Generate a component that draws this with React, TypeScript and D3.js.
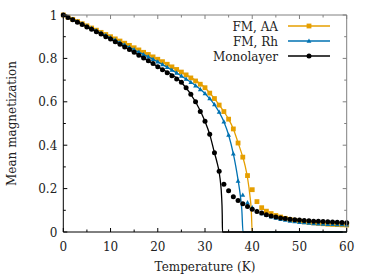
import * as d3 from "d3";

const temps = d3.range(0, 61);

const aaMarks = [
  1.0, 0.99, 0.98, 0.97, 0.96, 0.95, 0.94, 0.93, 0.92, 0.91,
  0.9, 0.89, 0.88, 0.87, 0.86, 0.849, 0.839, 0.828, 0.818, 0.807,
  0.796, 0.785, 0.773, 0.761, 0.749, 0.737, 0.724, 0.71, 0.696, 0.681,
  0.665, 0.64, 0.615, 0.585, 0.555, 0.52, 0.475, 0.41, 0.345, 0.26,
  0.195, 0.14, 0.112, 0.096, 0.085, 0.076, 0.069, 0.063, 0.058, 0.054,
  0.05, 0.047, 0.044, 0.042, 0.04, 0.038, 0.036, 0.035, 0.034, 0.033, 0.032,
];

const rhMarks = [
  1.0, 0.99, 0.98, 0.969, 0.959, 0.948, 0.938, 0.927, 0.917, 0.906,
  0.895, 0.884, 0.873, 0.862, 0.851, 0.84, 0.829, 0.818, 0.807, 0.796,
  0.784, 0.772, 0.759, 0.746, 0.733, 0.719, 0.705, 0.69, 0.674, 0.657,
  0.638, 0.615, 0.587, 0.553, 0.508, 0.447, 0.36, 0.235, 0.17, 0.135,
  0.112, 0.096, 0.085, 0.077, 0.07, 0.064, 0.059, 0.055, 0.051, 0.048,
  0.045, 0.043, 0.041, 0.039, 0.038, 0.037, 0.036, 0.035, 0.034, 0.034, 0.033,
];

const monoMarks = [
  1.0, 0.989, 0.978, 0.967, 0.956, 0.945, 0.934, 0.923, 0.912, 0.9,
  0.889, 0.877, 0.865, 0.853, 0.841, 0.828, 0.815, 0.802, 0.789, 0.776,
  0.762, 0.748, 0.734, 0.72, 0.705, 0.69, 0.665, 0.635, 0.6, 0.555,
  0.51, 0.45, 0.365, 0.28, 0.22, 0.19, 0.163, 0.145, 0.13, 0.118,
  0.105, 0.095, 0.087, 0.08, 0.074, 0.069, 0.065, 0.062, 0.059, 0.057,
  0.055, 0.053, 0.052, 0.05, 0.049, 0.048, 0.047, 0.046, 0.045, 0.044, 0.043,
];

// fitted curves
const aaFitT = [0, 5, 10, 15, 20, 25, 30, 32, 34, 35, 36, 37, 38, 38.5, 39, 39.5, 39.8, 40, 60];
const aaFitM = [1, 0.95, 0.9, 0.849, 0.796, 0.737, 0.665, 0.615, 0.555, 0.52, 0.475, 0.412, 0.345, 0.305, 0.25, 0.17, 0.1, 0, 0];
const rhFitT = [0, 5, 10, 15, 20, 25, 30, 32, 34, 35, 36, 36.5, 37, 37.5, 37.8, 38.05, 60];
const rhFitM = [1, 0.948, 0.895, 0.84, 0.784, 0.719, 0.638, 0.587, 0.508, 0.447, 0.36, 0.305, 0.24, 0.165, 0.1, 0, 0];
const monoFitT = [0, 5, 10, 15, 20, 25, 28, 30, 31, 32, 32.5, 33, 33.3, 33.5, 33.65, 33.7, 60];
const monoFitM = [1, 0.945, 0.889, 0.828, 0.762, 0.69, 0.6, 0.51, 0.45, 0.365, 0.325, 0.275, 0.225, 0.17, 0.08, 0, 0];

const xMajor = [0, 10, 20, 30, 40, 50, 60];
const xMinor = [5, 15, 25, 35, 45, 55];
const yMajor = [0, 0.2, 0.4, 0.6, 0.8, 1];
const yMinor = [0.1, 0.3, 0.5, 0.7, 0.9];

const ORANGE = "#e69f00";
const BLUE = "#0072b2";
const BLACK = "#000000";
const FONT = "DejaVu Serif";

export default function App() {
  const W = 374, H = 280;
  const m = { left: 63.3, right: 27.3, top: 15, bottom: 48 };
  const x = d3.scaleLinear().domain([0, 60]).range([m.left, W - m.right]);
  const y = d3.scaleLinear().domain([0, 1]).range([H - m.bottom, m.top]);
  const [x0, x1] = x.range();
  const [y0, y1] = y.range();

  const line = (ts: number[], ms: number[]) =>
    d3.line<number>().x((_, i) => x(ts[i])).y((d) => y(d)).curve(d3.curveMonotoneX)(ms) || "";

  const square = (cx: number, cy: number, key: string | number) => (
    <rect key={key} x={cx - 2.4} y={cy - 2.4} width={4.8} height={4.8} fill={ORANGE} />
  );
  const tri = (cx: number, cy: number, key: string | number) => (
    <path key={key} d={`M${cx},${cy - 2.6}L${cx + 2.4},${cy + 1.7}L${cx - 2.4},${cy + 1.7}Z`} fill={BLUE} />
  );
  const dot = (cx: number, cy: number, key: string | number) => (
    <circle key={key} cx={cx} cy={cy} r={2.5} fill={BLACK} />
  );

  const series = [
    { name: "FM, AA", color: ORANGE, marks: aaMarks, fitT: aaFitT, fitM: aaFitM, mk: square },
    { name: "FM, Rh", color: BLUE, marks: rhMarks, fitT: rhFitT, fitM: rhFitM, mk: tri },
    { name: "Monolayer", color: BLACK, marks: monoMarks, fitT: monoFitT, fitM: monoFitM, mk: dot },
  ];

  const frame = "#808080";
  const txt = { fontFamily: FONT, fontSize: 12, fill: "#222" };

  return (
    <svg width={W} height={H} style={{ position: "absolute", left: 0, top: 0 }}>
      <rect width={W} height={H} fill="#fff" />
      {series.map((s) => (
        <g key={s.name}>
          <path d={line(s.fitT, s.fitM)} fill="none" stroke={s.color} strokeWidth={1.3} />
          {s.marks.map((v, i) => s.mk(x(temps[i]), y(v), i))}
        </g>
      ))}
      {/* frame: top and right grey, left and bottom black */}
      <line x1={x0} x2={x1} y1={y1} y2={y1} stroke={frame} />
      <line x1={x1} x2={x1} y1={y1} y2={y0} stroke={frame} />
      {xMajor.concat(xMinor).map((t) => (
        <line key={"tt" + t} x1={x(t)} x2={x(t)} y1={y1} y2={y1 + (xMajor.includes(t) ? 4 : 2.5)} stroke={frame} />
      ))}
      {yMajor.concat(yMinor).map((t) => (
        <line key={"rt" + t} x1={x1} x2={x1 - (yMajor.includes(t) ? 4 : 2.5)} y1={y(t)} y2={y(t)} stroke={frame} />
      ))}
      <line x1={x0} x2={x1} y1={y0} y2={y0} stroke={BLACK} />
      <line x1={x0} x2={x0} y1={y1} y2={y0} stroke={BLACK} />
      {xMajor.concat(xMinor).map((t) => (
        <line key={"bt" + t} x1={x(t)} x2={x(t)} y1={y0} y2={y0 - (xMajor.includes(t) ? 4 : 2.5)} stroke={BLACK} />
      ))}
      {yMajor.concat(yMinor).map((t) => (
        <line key={"lt" + t} x1={x0} x2={x0 + (yMajor.includes(t) ? 4 : 2.5)} y1={y(t)} y2={y(t)} stroke={BLACK} />
      ))}
      {xMajor.map((t) => (
        <text key={"xl" + t} x={x(t)} y={y0 + 19} textAnchor="middle" style={txt}>{t}</text>
      ))}
      {yMajor.map((t) => (
        <text key={"yl" + t} x={x0 - 6} y={y(t) + 4.5} textAnchor="end" style={txt}>{t}</text>
      ))}
      <text x={(x0 + x1) / 2} y={H - 9} textAnchor="middle" style={txt}>Temperature (K)</text>
      <text transform={`translate(16,${(y0 + y1) / 2}) rotate(-90)`} textAnchor="middle" style={txt}>Mean magnetization</text>
      {series.map((s, i) => {
        const ly = 26 + i * 15;
        return (
          <g key={"lg" + s.name}>
            <text x={278} y={ly + 4.5} textAnchor="end" style={txt}>{s.name}</text>
            <line x1={288} x2={330} y1={ly} y2={ly} stroke={s.color} strokeWidth={1.3} />
            {s.mk(309, ly, "lm")}
          </g>
        );
      })}
    </svg>
  );
}
